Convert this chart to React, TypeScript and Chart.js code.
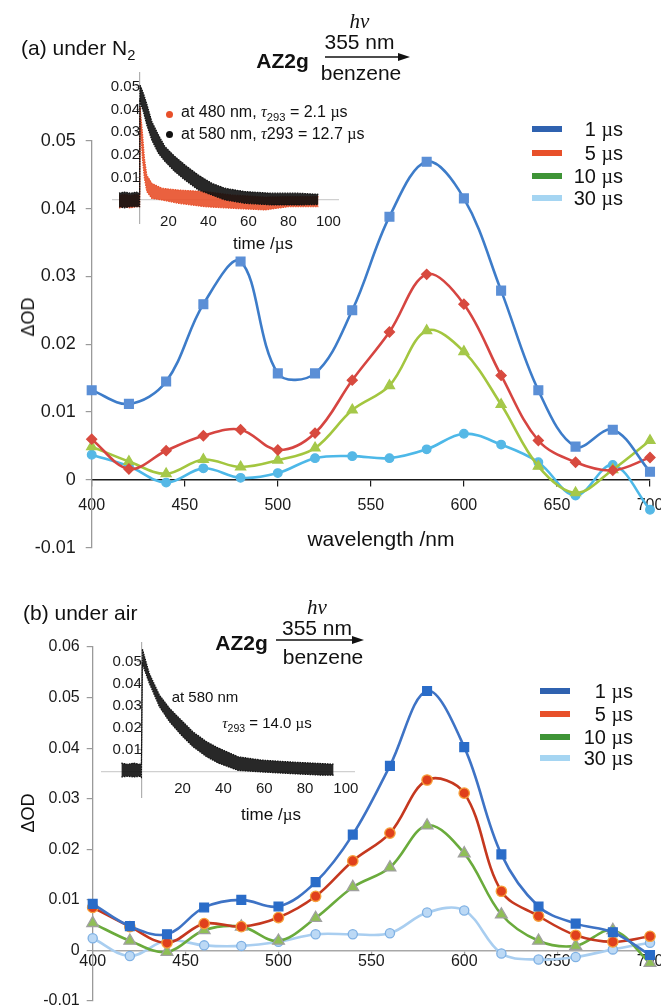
import React, { useEffect, useLayoutEffect, useRef } from "react";
import { Chart, registerables } from "chart.js";

Chart.register(...registerables);

// ---------------- data ----------------
const wavelengths = [400, 420, 440, 460, 480, 500, 520, 540, 560, 580, 600, 620, 640, 660, 680, 700];

// (a) under N2
const a1us = [0.0132, 0.0112, 0.0145, 0.0259, 0.0322, 0.0157, 0.0157, 0.025, 0.0388, 0.0469, 0.0415, 0.0279, 0.0132, 0.0049, 0.0074, 0.0012];
const a5us = [0.006, 0.0016, 0.0043, 0.0065, 0.0074, 0.0044, 0.0069, 0.0147, 0.0218, 0.0303, 0.0259, 0.0154, 0.0058, 0.0026, 0.0014, 0.0033];
const a10us = [0.0049, 0.0027, 0.0009, 0.003, 0.0019, 0.0029, 0.0047, 0.0103, 0.0139, 0.022, 0.0189, 0.0111, 0.002, -0.0019, 0.0015, 0.0058];
const a30us = [0.0037, 0.002, -0.0004, 0.0017, 0.0003, 0.001, 0.0032, 0.0035, 0.0032, 0.0045, 0.0068, 0.0052, 0.0026, -0.0023, 0.0022, -0.0044];

// (b) under air
const b1us = [0.0092, 0.0048, 0.0032, 0.0085, 0.01, 0.0087, 0.0135, 0.0229, 0.0365, 0.0513, 0.0402, 0.019, 0.0087, 0.0053, 0.0036, -0.0009];
const b5us = [0.0085, 0.0047, 0.0015, 0.0053, 0.0047, 0.0065, 0.0107, 0.0177, 0.0232, 0.0337, 0.0311, 0.0117, 0.0068, 0.003, 0.0017, 0.0028];
const b10us = [0.0054, 0.0019, -0.0003, 0.004, 0.0047, 0.0019, 0.0064, 0.0125, 0.0164, 0.0247, 0.0192, 0.0071, 0.0019, 0.0009, 0.004, -0.0025];
const b30us = [0.0024, -0.0011, 0.002, 0.001, 0.0009, 0.0017, 0.0032, 0.0032, 0.0034, 0.0075, 0.0079, -0.0006, -0.0018, -0.0013, 0.0002, 0.0015];

const seriesLabels = ["1 µs", "5 µs", "10 µs", "30 µs"];

const xTicks = [400, 450, 500, 550, 600, 650, 700];
const xTickLabels = ["400", "450", "500", "550", "600", "650", "700"];
const yTicksA = [-0.01, 0, 0.01, 0.02, 0.03, 0.04, 0.05];
const yTickLabelsA = ["-0.01", "0", "0.01", "0.02", "0.03", "0.04", "0.05"];
const yTicksB = [-0.01, 0, 0.01, 0.02, 0.03, 0.04, 0.05, 0.06];
const yTickLabelsB = ["-0.01", "0", "0.01", "0.02", "0.03", "0.04", "0.05", "0.06"];

const insetXTicks = [20, 40, 60, 80, 100];
const insetXTickLabels = ["20", "40", "60", "80", "100"];
const insetYTicks = [0.01, 0.02, 0.03, 0.04, 0.05];
const insetYTickLabels = ["0.01", "0.02", "0.03", "0.04", "0.05"];

// inset (a): envelopes of the decay clouds (time /µs, upper and lower ΔOD)
const tA580 = [-4.7, -2, 1, 4, 5.6, 5.8, 7.5, 9.2, 11.7, 15, 18.3, 23.3, 28.3, 35, 41.7, 48.3, 58.3, 71.7, 85, 95];
const upA580 = [0.003, 0.0035, 0.003, 0.0035, 0.003, 0.051, 0.0472, 0.0425, 0.0347, 0.0288, 0.0236, 0.0192, 0.0155, 0.011, 0.0074, 0.0052, 0.0037, 0.003, 0.003, 0.0025];
const loA580 = [-0.003, -0.0035, -0.003, -0.003, -0.003, 0.0435, 0.039, 0.0332, 0.0265, 0.0207, 0.017, 0.0125, 0.0088, 0.0044, 0.0022, 0, -0.0015, -0.0022, -0.0022, -0.002];
const tA480 = [-4.7, -2, 1, 4, 5.6, 5.8, 7, 8, 9.2, 11.7, 16.7, 25, 38.3, 51.7, 68.3, 80, 95];
const upA480 = [0.002, 0.0025, 0.002, 0.0025, 0.002, 0.0413, 0.03, 0.0185, 0.011, 0.0074, 0.0052, 0.0044, 0.0037, 0.0022, 0.0013, 0.0015, 0.0015];
const loA480 = [-0.0035, -0.003, -0.0035, -0.003, -0.003, 0.036, 0.0185, 0.0096, 0.0037, 0.0007, 0, -0.0015, -0.003, -0.0037, -0.0044, -0.003, -0.003];

// inset (b)
const tB580 = [-10, -7, -4, -1, -0.2, 0.3, 3.6, 8.6, 13.5, 19.3, 25, 31.6, 37.3, 47.2, 58.5, 73.5, 88.6, 94];
const upB580 = [0.004, 0.0035, 0.004, 0.0035, 0.004, 0.0559, 0.045, 0.035, 0.029, 0.0236, 0.0183, 0.0138, 0.011, 0.0069, 0.0054, 0.0045, 0.0038, 0.0035];
const loB580 = [-0.0023, -0.002, -0.0023, -0.002, -0.0025, 0.049, 0.0405, 0.0297, 0.0229, 0.0168, 0.0115, 0.007, 0.0041, 0.0007, 0, -0.0008, -0.0015, -0.0015];

// ---------------- styles ----------------
const SANS = "'Liberation Sans', Arial, Helvetica, sans-serif";
const SERIF = "'Liberation Serif', 'Times New Roman', serif";

const legendColors = ["#2f62b0", "#e8502a", "#3e9436", "#a5d5f2"];

const stylesA = [
  { line: "#3d7cc9", fill: "#5b8fd6", border: "#5b8fd6", shape: "rect", r: 6.2 },
  { line: "#d64541", fill: "#d84a3f", border: "#d84a3f", shape: "rectRot", r: 5 },
  { line: "#a3c63f", fill: "#a5c84a", border: "#a5c84a", shape: "triangle", r: 5.8 },
  { line: "#4db8e8", fill: "#55b8e6", border: "#55b8e6", shape: "circle", r: 4.3 },
];
const stylesB = [
  { line: "#3e73c5", fill: "#2a6cc8", border: "#2a6cc8", shape: "rect", r: 6.2 },
  { line: "#c5381f", fill: "#e0401c", border: "#f6a03a", shape: "circle", r: 5.2 },
  { line: "#6aab3c", fill: "#8fbf56", border: "#a0a0a0", shape: "triangle", r: 6.8 },
  { line: "#a9cef0", fill: "#bcd9f5", border: "#7fb1e4", shape: "circle", r: 4.6 },
];

function toXY(xs: number[], ys: number[]) {
  return xs.map((x, i) => ({ x, y: ys[i] }));
}

function mainConfig(series: number[][], styles: any[], p: any): any {
  return {
    type: "line",
    data: {
      datasets: series.map((ys, i) => ({
        label: seriesLabels[i],
        data: toXY(wavelengths, ys),
        borderColor: styles[i].line,
        borderWidth: 2.6,
        tension: 0.36,
        fill: false,
        clip: false,
        pointStyle: styles[i].shape,
        pointRadius: styles[i].r,
        pointBackgroundColor: styles[i].fill,
        pointBorderColor: styles[i].border,
        pointBorderWidth: 1.3,
      })),
    },
    options: {
      responsive: false,
      animation: false,
      events: [],
      layout: { padding: p.pad },
      plugins: { legend: { display: false }, tooltip: { enabled: false } },
      scales: {
        x: {
          type: "linear",
          min: 400,
          max: 700,
          position: { y: 0 },
          afterFit: (s: any) => {
            s.height = 0;
          },
          afterBuildTicks: (s: any) => {
            s.ticks = xTicks.map((v) => ({ value: v }));
          },
          grid: { display: true, drawOnChartArea: false, tickLength: p.xTickLen, color: p.xColor, lineWidth: 1.2 },
          border: { display: true, color: p.xColor, width: p.xWidth },
          ticks: {
            color: "#1a1a1a",
            font: { size: 16, family: SANS },
            padding: p.xPad,
            maxRotation: 0,
            autoSkip: false,
            callback: (_v: any, i: number) => xTickLabels[i],
          },
        },
        y: {
          type: "linear",
          min: p.yTicks[0],
          max: p.yTicks[p.yTicks.length - 1],
          position: "left",
          afterFit: (s: any) => {
            s.width = p.axisWidth;
          },
          afterBuildTicks: (s: any) => {
            s.ticks = p.yTicks.map((v: number) => ({ value: v }));
          },
          grid: { display: true, drawOnChartArea: false, tickLength: 6, color: "#9a9a9a", lineWidth: 1.2 },
          border: { display: true, color: "#9a9a9a", width: 1.3 },
          ticks: {
            color: "#1a1a1a",
            font: { size: p.yFont, family: SANS },
            padding: p.yPad,
            callback: (_v: any, i: number) => p.yLabels[i],
          },
        },
      },
    },
  };
}

function band(ts: number[], up: number[], lo: number[], color: string, fillColor: string) {
  return [
    {
      data: toXY(ts, up),
      borderColor: color,
      borderWidth: 1.2,
      borderDash: [1.5, 1],
      backgroundColor: fillColor,
      fill: "+1",
      pointRadius: 0,
      tension: 0,
      clip: false,
    },
    {
      data: toXY(ts, lo),
      borderColor: color,
      borderWidth: 1.2,
      borderDash: [1.5, 1],
      fill: false,
      pointRadius: 0,
      tension: 0,
      clip: false,
    },
  ];
}

function insetConfig(datasets: any[], p: any): any {
  return {
    type: "line",
    data: { datasets },
    options: {
      responsive: false,
      animation: false,
      events: [],
      layout: { padding: p.pad },
      plugins: { legend: { display: false }, tooltip: { enabled: false } },
      scales: {
        x: {
          type: "linear",
          min: p.xMin,
          max: p.xMax,
          position: { y: 0 },
          afterFit: (s: any) => {
            s.height = 0;
          },
          afterBuildTicks: (s: any) => {
            s.ticks = insetXTicks.map((v) => ({ value: v }));
          },
          grid: { display: false, drawOnChartArea: false },
          border: { display: true, color: "#d0d0d0", width: 1.2 },
          ticks: {
            color: "#1a1a1a",
            font: { size: 15, family: SANS },
            padding: p.xPad,
            maxRotation: 0,
            autoSkip: false,
            callback: (_v: any, i: number) => insetXTickLabels[i],
          },
        },
        y: {
          type: "linear",
          min: p.yMin,
          max: p.yMax,
          position: { x: p.yCross },
          afterFit: (s: any) => {
            s.width = 0;
          },
          afterBuildTicks: (s: any) => {
            s.ticks = insetYTicks.map((v) => ({ value: v }));
          },
          grid: { display: true, drawOnChartArea: false, tickLength: p.yTickLen, color: "#b0b0b0", lineWidth: 1 },
          border: { display: true, color: "#b0b0b0", width: 1.2 },
          ticks: {
            color: "#1a1a1a",
            font: { size: 15, family: SANS },
            padding: p.yPad,
            callback: (_v: any, i: number) => insetYTickLabels[i],
          },
        },
      },
    },
  };
}

function ChartCanvas({ left, top, width, height, make }: any) {
  const ref = useRef<HTMLCanvasElement>(null);
  useEffect(() => {
    const chart = new Chart(ref.current as HTMLCanvasElement, make());
    return () => chart.destroy();
  }, []);
  return (
    <canvas
      ref={ref}
      width={width}
      height={height}
      style={{ position: "absolute", left, top, width, height }}
    />
  );
}

const Mu = () => <span style={{ fontFamily: SERIF }}>µ</span>;

function Txt({ x, y, size, children, align = "center", style = {} }: any) {
  const tx = align === "center" ? "-50%" : align === "right" ? "-100%" : "0";
  return (
    <div
      style={{
        position: "absolute",
        left: x,
        top: y,
        transform: `translate(${tx}, -50%)`,
        fontSize: size,
        lineHeight: 1,
        whiteSpace: "nowrap",
        fontFamily: SANS,
        color: "#111",
        ...style,
      }}
    >
      {children}
    </div>
  );
}

function Legend({ swLeft, textRight, rows }: any) {
  return (
    <>
      {seriesLabels.map((lab, i) => (
        <React.Fragment key={lab}>
          <div
            style={{
              position: "absolute",
              left: swLeft,
              top: rows[i] - 3,
              width: 30,
              height: 6,
              background: legendColors[i],
            }}
          />
          <Txt x={textRight} y={rows[i]} size={20} align="right">
            {lab.split(" ")[0]} <Mu />s
          </Txt>
        </React.Fragment>
      ))}
    </>
  );
}

function Scheme({ azX, arrowX1, arrowX2, arrowY, hvX, hvY, nmY, benzX, benzY, azY }: any) {
  return (
    <>
      <Txt x={hvX} y={hvY} size={21} style={{ fontFamily: SERIF, fontStyle: "italic" }}>
        hν
      </Txt>
      <Txt x={hvX} y={nmY} size={21}>
        355 nm
      </Txt>
      <Txt x={azX} y={azY} size={21} style={{ fontWeight: "bold" }}>
        AZ2g
      </Txt>
      <Txt x={benzX} y={benzY} size={21}>
        benzene
      </Txt>
      <svg
        width={661}
        height={20}
        style={{ position: "absolute", left: 0, top: arrowY - 10, overflow: "visible" }}
      >
        <line x1={arrowX1} y1={10} x2={arrowX2 - 8} y2={10} stroke="#111" strokeWidth={1.5} />
        <polygon points={`${arrowX2},10 ${arrowX2 - 12},6 ${arrowX2 - 12},14`} fill="#111" />
      </svg>
    </>
  );
}

const Sub = ({ children }: any) => (
  <span style={{ fontSize: "0.7em", verticalAlign: "-0.35em" }}>{children}</span>
);

export default function App() {
  useLayoutEffect(() => {
    document.body.style.margin = "0";
    document.body.style.background = "#fff";
  }, []);

  return (
    <div style={{ position: "relative", width: 661, height: 1007, overflow: "hidden", background: "#fff" }}>
      {/* ---------- panel (a) ---------- */}
      <ChartCanvas
        left={0}
        top={0}
        width={690}
        height={575}
        make={() =>
          mainConfig([a1us, a5us, a10us, a30us], stylesA, {
            pad: { top: 140.7, bottom: 27.3, right: 40, left: 0 },
            axisWidth: 91.7,
            yTicks: yTicksA,
            yLabels: yTickLabelsA,
            yFont: 18,
            yPad: 10,
            xPad: 10,
            xTickLen: 6,
            xColor: "#1a1a1a",
            xWidth: 1.4,
          })
        }
      />
      <ChartCanvas
        left={60}
        top={60}
        width={300}
        height={200}
        make={() =>
          insetConfig(
            [
              ...band(tA580, upA580, loA580, "#111111", "rgba(17,17,17,0.9)"),
              ...band(tA480, upA480, loA480, "#e8502a", "rgba(232,80,42,0.9)"),
            ],
            {
              pad: { left: 53, right: 22, top: 13, bottom: 37 },
              xMin: -7.7,
              xMax: 104.8,
              yMin: -0.0102,
              yMax: 0.0562,
              yCross: 5.8,
              xPad: 5,
              yPad: 4,
              yTickLen: 3,
            }
          )
        }
      />
      <Txt x={21} y={50} size={21} align="left">
        (a) under N<Sub>2</Sub>
      </Txt>
      <Scheme azX={282.5} azY={60} arrowX1={325} arrowX2={410} arrowY={56.5} hvX={359.5} hvY={21} nmY={41} benzX={361} benzY={72.4} />
      <Legend swLeft={531.7} textRight={623} rows={[129, 152.7, 176, 198]} />
      <div style={{ position: "absolute", left: 165.5, top: 110.5, width: 7, height: 7, borderRadius: "50%", background: "#e8502a" }} />
      <Txt x={181} y={114} size={16} align="left">
        at 480 nm, <span style={{ fontFamily: SERIF, fontStyle: "italic" }}>τ</span>
        <Sub>293</Sub> = 2.1 <Mu />s
      </Txt>
      <div style={{ position: "absolute", left: 165.5, top: 130.5, width: 7, height: 7, borderRadius: "50%", background: "#111" }} />
      <Txt x={181} y={134} size={16} align="left">
        at 580 nm, <span style={{ fontFamily: SERIF, fontStyle: "italic" }}>τ</span>293 = 12.7 <Mu />s
      </Txt>
      <Txt x={263} y={243} size={17}>
        time /<Mu />s
      </Txt>
      <Txt x={28} y={317} size={18} style={{ transform: "translate(-50%, -50%) rotate(-90deg)" }}>
        ΔOD
      </Txt>
      <Txt x={381} y={538} size={21}>
        wavelength /nm
      </Txt>

      {/* ---------- panel (b) ---------- */}
      <ChartCanvas
        left={0}
        top={590}
        width={690}
        height={435}
        make={() =>
          mainConfig([b1us, b5us, b10us, b30us], stylesB, {
            pad: { top: 57, bottom: 24, right: 40, left: 0 },
            axisWidth: 92.7,
            yTicks: yTicksB,
            yLabels: yTickLabelsB,
            yFont: 16,
            yPad: 7,
            xPad: -2,
            xTickLen: 4,
            xColor: "#a8a8a8",
            xWidth: 1.5,
          })
        }
      />
      <ChartCanvas
        left={60}
        top={620}
        width={320}
        height={210}
        make={() =>
          insetConfig([...band(tB580, upB580, loB580, "#111111", "rgba(17,17,17,0.9)")], {
            pad: { left: 42, right: 26, top: 23, bottom: 33 },
            xMin: -19.5,
            xMax: 104,
            yMin: -0.0114,
            yMax: 0.0586,
            yCross: 0,
            xPad: 0,
            yPad: 4,
            yTickLen: 4,
          })
        }
      />
      <Txt x={23} y={612} size={21} align="left">
        (b) under air
      </Txt>
      <Scheme azX={241.5} azY={642} arrowX1={276} arrowX2={364} arrowY={640} hvX={317} hvY={607} nmY={627} benzX={323} benzY={656} />
      <Legend swLeft={540} textRight={633} rows={[691, 714, 737, 758]} />
      <Txt x={205} y={696} size={15}>
        at 580 nm
      </Txt>
      <Txt x={267} y={724} size={15}>
        <span style={{ fontFamily: SERIF, fontStyle: "italic" }}>τ</span>
        <Sub>293</Sub> = 14.0 <Mu />s
      </Txt>
      <Txt x={271} y={814} size={17}>
        time /<Mu />s
      </Txt>
      <Txt x={28} y={813} size={18} style={{ transform: "translate(-50%, -50%) rotate(-90deg)" }}>
        ΔOD
      </Txt>
    </div>
  );
}
